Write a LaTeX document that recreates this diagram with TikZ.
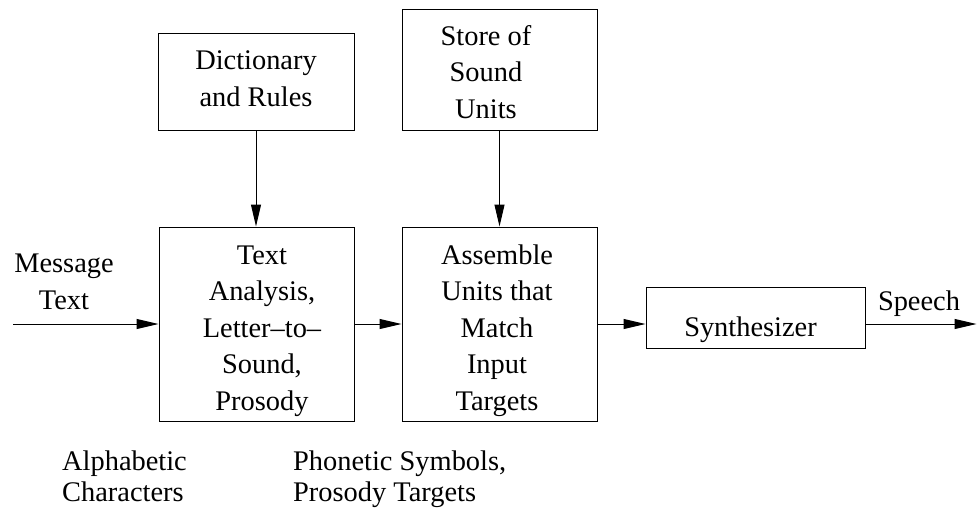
\documentclass[tikz,border=0pt]{standalone}
\usepackage{fontspec}
\setmainfont{Liberation Serif}
\usetikzlibrary{arrows.meta}

\tikzset{
  box/.style={draw, line width=1pt, inner sep=0pt},
  % multi-line labels are placed by the baseline of their last line
  lbl/.style={font=\fontsize{28.4}{36.5}\selectfont, align=center, inner sep=0pt, anchor=base},
  note/.style={font=\fontsize{28.4}{31}\selectfont, align=left, inner sep=0pt, anchor=base west},
  arr/.style={line width=1pt, -{Triangle[length=22pt,width=10pt]}},
}

\begin{document}
\begin{tikzpicture}[x=1pt, y=-1pt]
  \useasboundingbox (0,0) rectangle (977,512);

  % blocks
  \node[box, minimum width=196pt, minimum height=97pt]  (dict)  at (256,81.5)  {};
  \node[box, minimum width=195pt, minimum height=121pt] (store) at (499.5,69.5) {};
  \node[box, minimum width=195pt, minimum height=194pt] (ta)    at (256.5,324)  {};
  \node[box, minimum width=195pt, minimum height=194pt] (asm)   at (499.5,324)  {};
  \node[box, minimum width=219pt, minimum height=61pt]  (syn)   at (755.5,317.5) {};

  % block texts
  \node[lbl] (dict-t)  at (256,106)  {Dictionary\\and Rules};
  \node[lbl] (store-t) at (486,118)  {Store of\\Sound\\Units};
  \node[lbl] (ta-t)    at (262,410) {Text\\Analysis,\\Letter--to--\\Sound,\\Prosody};
  \node[lbl] (asm-t)   at (497,410) {Assemble\\Units that\\Match\\Input\\Targets};
  \node[lbl] (syn-t)   at (750.5,336) {Synthesizer};

  % signal labels
  \node[lbl] (msg-t) at (64,309) {Message\\Text};
  \node[lbl] (sp-t)  at (919,310) {Speech};
  \node[note] (alpha-t) at (62,501)  {Alphabetic\\Characters};
  \node[note] (phon-t)  at (293,501) {Phonetic Symbols,\\Prosody Targets};

  % free ends of the signal path
  \coordinate (in)  at (13,324);
  \coordinate (out) at (976.5,324);

  % connectors
  \draw[arr] (dict.south)  -- (dict.south |- ta.north);
  \draw[arr] (store.south) -- (store.south |- asm.north);
  \draw[arr] (in) -- (ta.west);
  \draw[arr] (ta.east) -- (asm.west);
  \draw[arr] (asm.east) -- (asm.east -| syn.west);
  \draw[arr] (asm.east -| syn.east) -- (out);
\end{tikzpicture}
\end{document}
